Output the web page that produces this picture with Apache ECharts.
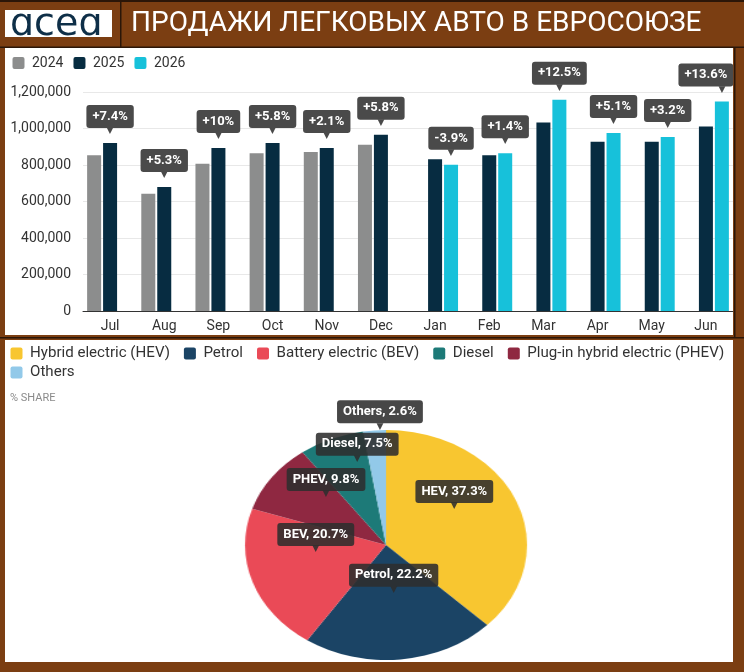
<!DOCTYPE html>
<html>
<head>
<meta charset="utf-8">
<script src="https://cdn.jsdelivr.net/npm/echarts@6/dist/echarts.min.js"></script>
<style>
  html, body { margin: 0; padding: 0; background: #7b3e12; }
  #wrap { position: relative; width: 744px; height: 672px; overflow: hidden; }
  #main, #labels { position: absolute; left: 0; top: 0; width: 744px; height: 672px; }
  #labels { pointer-events: none; }
  /* пирог на картинке растянут по горизонтали — тянем только сектора */
  #pie { position: absolute; left: 236px; top: 425px; width: 300px; height: 240px;
         transform-origin: 150px 120px; transform: scaleX(1.226); }
</style>
</head>
<body>
<div id="wrap">
  <div id="main"></div>
  <div id="pie"></div>
  <div id="labels"></div>
</div>
<script>
// данные
const months = ['Jul', 'Aug', 'Sep', 'Oct', 'Nov', 'Dec', 'Jan', 'Feb', 'Mar', 'Apr', 'May', 'Jun']
const sales2024 = [854000, 642000, 807000, 865000, 871000, 911000, null, null, null, null, null, null]
const sales2025 = [920000, 680000, 893000, 920000, 893000, 966000, 832000, 854000, 1033000, 927000, 927000, 1011000]
const sales2026 = [null, null, null, null, null, null, 801000, 865000, 1158000, 975000, 953000, 1148000]
const changeLabels = ['+7.4%', '+5.3%', '+10%', '+5.8%', '+2.1%', '+5.8%', '-3.9%', '+1.4%', '+12.5%', '+5.1%', '+3.2%', '+13.6%']
const yMax = 1200000
const yStep = 200000

// доли по типу топлива (порядок по часовой стрелке)
const fuelNames = ['Hybrid electric (HEV)', 'Petrol', 'Battery electric (BEV)', 'Plug-in hybrid electric (PHEV)', 'Diesel', 'Others']
const fuelShort = ['HEV', 'Petrol', 'BEV', 'PHEV', 'Diesel', 'Others']
const fuelShare = [37.3, 22.2, 20.7, 9.8, 7.5, 2.6]
const legendOrder = ['Hybrid electric (HEV)', 'Petrol', 'Battery electric (BEV)', 'Diesel', 'Plug-in hybrid electric (PHEV)']

const fuelColors = {
  'Hybrid electric (HEV)': '#f8c630',
  'Petrol': '#1b4465',
  'Battery electric (BEV)': '#ea4a57',
  'Plug-in hybrid electric (PHEV)': '#8f2841',
  'Diesel': '#1d7a78',
  'Others': '#92c9e9'
}
const yearColors = ['#8c8d8d', '#072c41', '#17c1da']

const brown = '#7b3e12'
const dark = '#2b1608'
const FONT = 'Roboto, "Noto Sans", sans-serif'
const squareIcon = 'path://M2,0h8a2,2,0,0,1,2,2v8a2,2,0,0,1,-2,2h-8a2,2,0,0,1,-2,-2v-8a2,2,0,0,1,2,-2z'

// выноска с хвостиком
const callout = (bg, size) => ({
  box: { backgroundColor: bg, color: '#fff', fontWeight: 'bold', fontSize: size, fontFamily: FONT,
         padding: [5, 6, 5, 6], borderRadius: 3 },
  arr: { color: bg, fontSize: 9, lineHeight: 6, fontFamily: 'DejaVu Sans' },
  // хвостик сдвинут вправо, когда коробка прижата к краю
  arrEdge: { color: bg, fontSize: 9, lineHeight: 6, fontFamily: 'DejaVu Sans', padding: [0, 0, 0, 32] }
})

const barLabel = {
  show: true,
  position: 'top',
  distance: 9,
  formatter: p => '{box|' + changeLabels[p.dataIndex] + '}\n' +
    (p.dataIndex === months.length - 1 ? '{arrEdge|▼}' : '{arr|▼}'),
  rich: callout('#4a4a4a', 13)
}

// подпись ставим на последний год пары
const withLabel = (arr, from, to) => arr.map((v, i) => {
  if (i < from || i >= to) return v
  const label = i === months.length - 1 ? { ...barLabel, offset: [-16, 0] } : barLabel
  return { value: v, label }
})

const main = echarts.init(document.getElementById('main'))
main.setOption({
  backgroundColor: brown,
  animation: false,
  textStyle: { fontFamily: FONT },
  graphic: [
    { type: 'rect', z: -10, shape: { x: 0, y: 0, width: 744, height: 2 }, style: { fill: dark } },
    { type: 'rect', z: -10, shape: { x: 5, y: 10, width: 107, height: 27 }, style: { fill: '#fff' } },
    { type: 'text', z: -9, x: 10, y: 25, style: { text: '\u0251ce\u0251', fill: '#0e2f48', fontSize: 38,
      fontFamily: 'DejaVu Sans', verticalAlign: 'middle' } },
    { type: 'rect', z: -10, shape: { x: 120, y: 2, width: 1.5, height: 46 }, style: { fill: dark } },
    { type: 'rect', z: -10, shape: { x: 0, y: 46.5, width: 744, height: 1.5 }, style: { fill: dark } },
    { type: 'text', z: -9, x: 131, y: 24, style: { text: 'ПРОДАЖИ ЛЕГКОВЫХ АВТО В ЕВРОСОЮЗЕ', fill: '#fff',
      fontSize: 28, fontFamily: 'Roboto, sans-serif', verticalAlign: 'middle' } },
    { type: 'rect', z: -10, shape: { x: 5, y: 48, width: 728, height: 287 }, style: { fill: '#fff' } },
    { type: 'rect', z: -10, shape: { x: 734, y: 48, width: 1.5, height: 289 }, style: { fill: dark } },
    { type: 'rect', z: -10, shape: { x: 0, y: 337, width: 744, height: 1.5 }, style: { fill: dark } },
    { type: 'rect', z: -10, shape: { x: 5, y: 340, width: 728, height: 322 }, style: { fill: '#fff' } },
    { type: 'text', z: -9, x: 10, y: 398, style: { text: '% SHARE', fill: '#8a8a8a', fontSize: 11,
      fontFamily: FONT, verticalAlign: 'middle' } }
  ],
  legend: {
    data: ['2024', '2025', '2026'],
    left: 7.5, top: 51,
    icon: squareIcon, itemWidth: 17, itemHeight: 12, itemGap: 10,
    textStyle: { fontSize: 14, color: '#333', fontFamily: FONT }
  },
  grid: { left: 83, right: 11, top: 92, bottom: 361, containLabel: false },
  xAxis: {
    type: 'category',
    data: months,
    axisLine: { lineStyle: { color: '#333', width: 1 } },
    axisTick: { show: false },
    axisLabel: { fontSize: 14, color: '#333', margin: 8, fontFamily: FONT }
  },
  yAxis: {
    type: 'value',
    min: 0, max: yMax, interval: yStep,
    axisLabel: { fontSize: 14, color: '#333', margin: 12, fontFamily: FONT,
      formatter: v => v.toLocaleString('en-US') },
    splitLine: { lineStyle: { color: '#e8e8e8' } }
  },
  series: [
    { name: '2024', type: 'bar', data: sales2024, barWidth: 14, barGap: '14%', itemStyle: { color: yearColors[0] } },
    { name: '2025', type: 'bar', data: withLabel(sales2025, 0, 6), barWidth: 14, barGap: '14%', itemStyle: { color: yearColors[1] } },
    { name: '2026', type: 'bar', data: withLabel(sales2026, 6, 12), barWidth: 14, barGap: '14%', itemStyle: { color: yearColors[2] } }
  ]
})

const pieData = fuelNames.map((n, i) => ({ name: n, value: fuelShare[i] }))

// сектора (растягиваются CSS)
const pie = echarts.init(document.getElementById('pie'))
pie.setOption({
  animation: false,
  series: [{
    type: 'pie', center: [150, 120], radius: 115, startAngle: 90, silent: true,
    label: { show: false }, labelLine: { show: false },
    data: pieData.map(d => ({ ...d, itemStyle: { color: fuelColors[d.name] } }))
  }]
})

// подписи и легенда поверх, без растяжения
const stretch = 0.226
const pieCx = 386
const labelLift = -27
const labelNudge = [0, 0, 0, 0, -15, -43]

const labels = echarts.init(document.getElementById('labels'))
labels.setOption({
  animation: false,
  textStyle: { fontFamily: FONT },
  legend: [
    {
      data: legendOrder.map(n => ({ name: n, itemStyle: { color: fuelColors[n] } })),
      left: 5.5, top: 341, width: 740,
      icon: squareIcon, itemWidth: 17, itemHeight: 12, itemGap: 14,
      textStyle: { fontSize: 15.1, color: '#333', fontFamily: FONT }
    },
    {
      data: [{ name: 'Others', itemStyle: { color: fuelColors['Others'] } }],
      left: 5.5, top: 360,
      icon: squareIcon, itemWidth: 17, itemHeight: 12,
      textStyle: { fontSize: 15.1, color: '#333', fontFamily: FONT }
    }
  ],
  series: [{
    type: 'pie', center: [pieCx, 545], radius: 115, startAngle: 90, silent: true,
    itemStyle: { color: 'rgba(0,0,0,0)' },
    labelLine: { show: false },
    label: {
      show: true, position: 'inside',
      formatter: p => '{box|' + fuelShort[p.dataIndex] + ', ' + fuelShare[p.dataIndex] + '%}\n{arr|▼}',
      rich: callout('rgba(45,45,45,0.88)', 13)
    },
    labelLayout: p => {
      const mid = p.labelRect.x + p.labelRect.width / 2
      return { dx: (mid - pieCx) * stretch, dy: labelLift + labelNudge[p.dataIndex] }
    },
    data: pieData
  }]
})
</script>
</body>
</html>
